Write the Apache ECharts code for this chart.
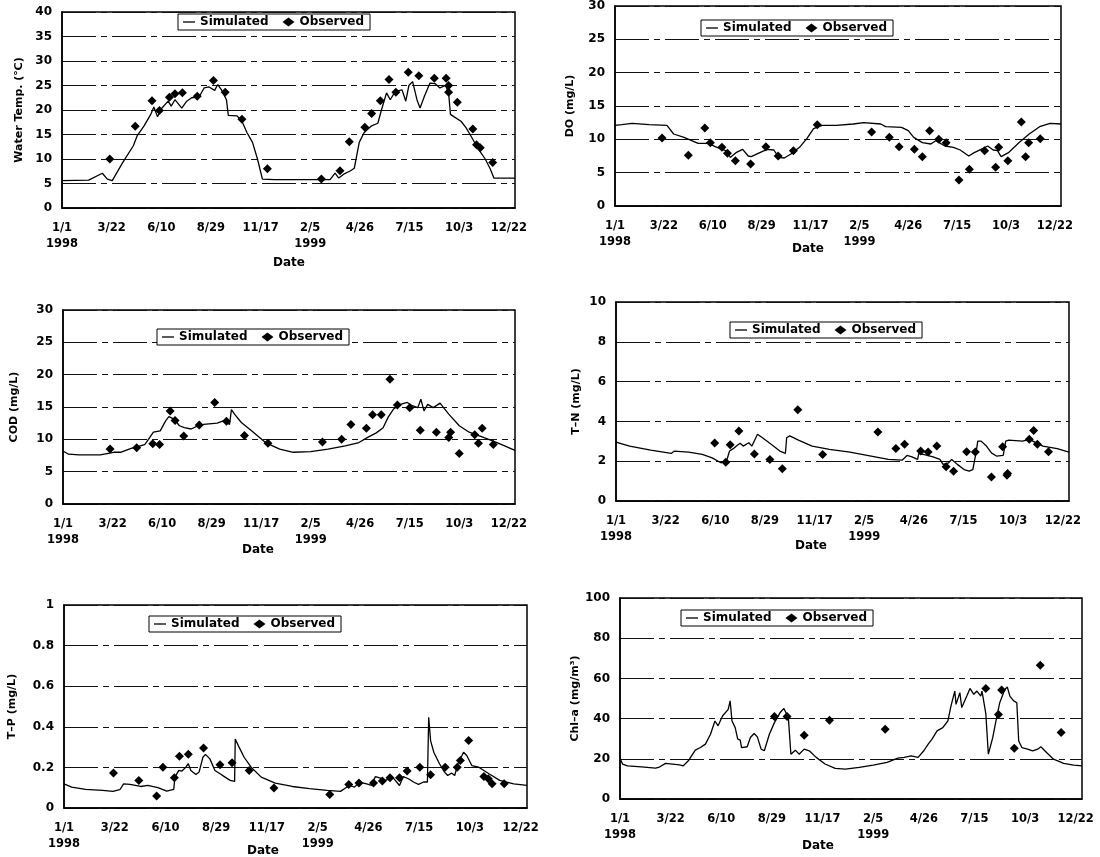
<!DOCTYPE html>
<html><head><meta charset="utf-8">
<script src="https://cdn.jsdelivr.net/npm/echarts@6/dist/echarts.min.js"></script>
<style>html,body{margin:0;padding:0;background:#fff}#c{width:1100px;height:857px}</style>
</head><body><div id="c"></div>
<script>
// ---------- DATA ----------
// x = days since 1998-01-01
const tickLabels = ['1/1\n1998','3/22','6/10','8/29','11/17','2/5\n1999','4/26','7/15','10/3','12/22'];
const tickStepDays = 80;
const axisMaxDays = 730;
const legendNames = ['Simulated','Observed'];
const yNames = ['Water Temp. (\u2103)','DO (mg/L)','COD (mg/L)','T\u2013N (mg/L)','T\u2013P (mg/L)','Chl\u2013a (mg/m\u00b3)'];
const yMax = [40, 30, 30, 10, 1, 100];
const yStep = [5, 5, 5, 2, 0.2, 20];
const xTitle = 'Date';

const tempSim = [[0,5.6],[43,5.7],[65,7.1],[73,5.9],[81,5.6],[98,9.3],[115,12.7],[121,14.7],[132,16.7],[143,19.1],[148,20.6],[154,18.6],[159,20.1],[171,21.8],[176,20.8],[182,22.1],[193,20.4],[201,21.8],[209,22.5],[221,22.7],[229,24.5],[237,24.7],[246,24.0],[251,25.2],[257,24.1],[265,22.1],[268,18.9],[282,18.8],[290,17.7],[298,15.4],[307,13.4],[315,10.0],[323,5.9],[343,5.8],[432,5.8],[440,7.1],[446,6.1],[454,6.9],[465,7.6],[471,8.1],[479,13.4],[487,15.4],[498,16.7],[509,17.3],[515,20.1],[523,23.5],[529,22.1],[537,23.8],[548,24.1],[554,21.8],[559,25.0],[565,25.8],[572,22.1],[577,20.4],[584,22.8],[593,25.5],[601,25.4],[609,24.5],[618,25.0],[623,23.5],[626,19.1],[632,18.6],[643,17.7],[651,16.4],[659,14.7],[671,12.0],[682,10.0],[690,8.0],[696,6.1],[730,6.1]];
const tempObs = [[77,10.0],[118,16.7],[145,21.9],[157,19.9],[173,22.6],[182,23.3],[194,23.5],[218,22.8],[244,26.0],[263,23.6],[290,18.1],[331,8.0],[418,5.9],[448,7.6],[463,13.5],[488,16.5],[499,19.3],[513,21.9],[527,26.2],[538,23.6],[558,27.7],[575,27.0],[600,26.5],[619,26.5],[623,25.0],[623,23.6],[637,21.6],[662,16.1],[668,12.9],[674,12.3],[694,9.3]];

const doSim = [[0,12.1],[11,12.2],[28,12.4],[56,12.2],[85,12.1],[96,10.8],[113,10.3],[136,9.4],[153,9.4],[164,8.9],[181,8.3],[189,7.3],[198,8.0],[209,8.5],[218,7.5],[223,7.4],[237,8.0],[249,8.5],[260,8.4],[268,7.3],[277,7.2],[288,7.8],[302,8.8],[314,10.1],[325,11.6],[339,12.1],[362,12.1],[390,12.3],[407,12.5],[435,12.3],[443,11.9],[469,11.8],[480,11.3],[489,10.3],[503,9.5],[517,9.3],[525,9.8],[540,9.0],[554,8.8],[565,8.4],[579,7.5],[588,8.0],[599,8.5],[610,9.0],[619,8.4],[626,8.3],[632,7.4],[644,8.0],[661,9.5],[678,10.8],[695,11.9],[712,12.4],[730,12.3]];
const doObs = [[77,10.2],[120,7.6],[147,11.7],[156,9.5],[175,8.8],[184,7.9],[197,6.8],[222,6.3],[247,8.9],[267,7.5],[292,8.3],[331,12.2],[420,11.1],[449,10.3],[465,8.9],[490,8.5],[503,7.4],[515,11.3],[530,10.0],[542,9.5],[563,3.9],[580,5.5],[605,8.3],[623,5.8],[628,8.8],[643,6.8],[665,12.6],[672,7.4],[677,9.5],[696,10.1]];

const codSim = [[0,8.2],[9,7.7],[26,7.6],[60,7.6],[82,8.0],[93,8.0],[110,8.6],[132,9.2],[138,10.0],[146,11.1],[157,11.3],[166,12.9],[171,13.5],[180,13.1],[188,12.1],[196,11.8],[207,11.6],[216,12.0],[227,12.3],[249,12.5],[260,12.9],[269,12.3],[272,14.6],[277,13.9],[288,12.6],[305,11.3],[327,9.5],[350,8.5],[372,8.0],[400,8.1],[428,8.5],[456,9.0],[478,9.5],[492,10.3],[506,11.0],[517,11.8],[525,13.4],[534,14.7],[545,15.4],[556,15.7],[564,15.2],[573,14.9],[578,16.2],[583,14.4],[589,15.4],[598,14.9],[609,15.6],[623,13.9],[640,12.1],[656,11.1],[679,10.3],[701,9.5],[730,8.3]];
const codObs = [[76,8.5],[119,8.7],[145,9.3],[156,9.2],[173,14.4],[181,12.9],[195,10.5],[220,12.2],[245,15.7],[264,12.8],[293,10.6],[331,9.4],[419,9.6],[450,10.0],[465,12.3],[490,11.7],[500,13.8],[514,13.8],[528,19.3],[540,15.3],[560,14.9],[577,11.4],[603,11.1],[623,10.3],[626,11.1],[640,7.8],[665,10.7],[671,9.4],[677,11.7],[695,9.2]];

const tnSim = [[0,2.96],[22,2.76],[56,2.56],[89,2.39],[94,2.51],[117,2.46],[139,2.34],[155,2.17],[169,1.92],[178,2.0],[183,2.51],[189,2.63],[194,2.76],[200,2.9],[205,2.76],[214,2.93],[219,2.76],[228,3.35],[236,3.18],[250,2.85],[264,2.51],[273,2.39],[275,3.18],[280,3.27],[294,3.06],[316,2.76],[344,2.59],[377,2.46],[411,2.26],[439,2.09],[461,2.05],[469,2.29],[477,2.22],[486,2.09],[488,2.39],[500,2.31],[511,2.22],[522,2.09],[527,1.84],[536,1.92],[541,2.09],[550,1.84],[561,1.58],[569,1.50],[575,1.58],[580,2.39],[583,3.01],[588,3.01],[597,2.76],[605,2.42],[613,2.26],[624,2.29],[628,3.01],[633,3.06],[655,3.01],[666,3.1],[688,2.76],[711,2.63],[730,2.46]];
const tnObs = [[159,2.91],[177,1.95],[184,2.83],[198,3.52],[223,2.36],[248,2.09],[268,1.62],[293,4.58],[333,2.34],[422,3.47],[451,2.64],[465,2.85],[491,2.51],[503,2.46],[517,2.76],[532,1.72],[544,1.50],[565,2.47],[579,2.46],[605,1.21],[623,2.73],[630,1.30],[631,1.38],[666,3.10],[673,3.54],[679,2.85],[697,2.47]];

const tpSim = [[0,0.119],[12,0.103],[34,0.092],[61,0.087],[77,0.082],[88,0.090],[94,0.119],[104,0.116],[121,0.106],[132,0.111],[148,0.100],[162,0.083],[173,0.092],[175,0.152],[181,0.185],[186,0.182],[192,0.201],[196,0.218],[200,0.185],[208,0.165],[213,0.177],[219,0.250],[223,0.264],[230,0.242],[238,0.185],[246,0.169],[254,0.152],[262,0.136],[269,0.131],[270,0.340],[276,0.300],[284,0.250],[295,0.201],[311,0.152],[333,0.123],[360,0.106],[387,0.095],[415,0.087],[436,0.082],[442,0.095],[450,0.111],[458,0.103],[466,0.128],[477,0.119],[485,0.111],[491,0.155],[499,0.147],[507,0.136],[518,0.152],[529,0.111],[535,0.155],[543,0.144],[551,0.128],[559,0.116],[567,0.128],[573,0.128],[575,0.447],[578,0.332],[583,0.275],[592,0.218],[600,0.177],[605,0.160],[611,0.172],[616,0.160],[621,0.218],[630,0.275],[635,0.259],[643,0.209],[654,0.201],[670,0.169],[687,0.136],[709,0.119],[730,0.111]];
const tpObs = [[78,0.172],[118,0.136],[146,0.059],[156,0.201],[174,0.149],[182,0.255],[196,0.265],[220,0.295],[246,0.213],[265,0.223],[292,0.185],[331,0.098],[419,0.067],[449,0.116],[465,0.123],[488,0.123],[502,0.133],[514,0.149],[529,0.149],[541,0.182],[561,0.201],[578,0.164],[601,0.201],[620,0.201],[625,0.234],[638,0.332],[662,0.155],[669,0.144],[675,0.119],[694,0.119]];

const chlSim = [[0,20.3],[4,17.4],[12,16.5],[34,16.0],[56,15.4],[61,15.7],[72,17.7],[83,17.4],[94,17.0],[100,16.5],[108,19.0],[113,21.5],[119,24.3],[127,25.6],[135,27.3],[143,32.2],[150,38.8],[155,36.4],[162,41.3],[171,44.6],[174,48.8],[177,38.8],[182,35.5],[186,29.8],[190,29.3],[192,25.6],[201,26.0],[206,30.6],[212,32.6],[217,30.9],[223,24.8],[228,24.0],[236,32.2],[244,38.0],[253,43.0],[259,45.0],[266,40.5],[270,22.3],[277,24.3],[283,22.3],[291,24.8],[299,24.0],[310,20.7],[324,17.4],[340,15.2],[356,14.9],[378,15.7],[400,16.9],[422,18.2],[439,20.3],[449,20.7],[460,21.5],[471,20.7],[480,24.0],[487,27.3],[493,29.8],[501,33.9],[510,35.5],[518,38.8],[523,46.3],[529,53.7],[531,47.1],[537,52.9],[540,45.5],[548,51.2],[553,55.0],[559,52.1],[564,53.7],[570,51.2],[572,53.7],[578,42.5],[582,22.3],[589,30.6],[594,38.8],[600,47.9],[608,54.5],[612,55.7],[616,51.2],[622,48.8],[627,47.9],[630,28.9],[635,25.6],[644,24.8],[652,24.0],[660,24.8],[665,26.0],[674,23.1],[685,19.8],[701,17.7],[717,16.9],[730,16.5]];
const chlObs = [[244,41.0],[264,41.0],[291,31.7],[331,39.2],[419,34.7],[578,55.0],[598,42.1],[603,54.2],[623,25.3],[664,66.6],[697,33.1]];

const simData = [tempSim, doSim, codSim, tnSim, tpSim, chlSim];
const obsData = [tempObs, doObs, codObs, tnObs, tpObs, chlObs];

// ---------- LAYOUT (positions/styles) ----------
const layout = [
  {left:62, top:12, width:453, height:196, lg:[178,14], date:[289,265], gap:37},
  {left:615, top:6, width:446, height:200, lg:[701,20], date:[808,251], gap:39},
  {left:63, top:310, width:452, height:194, lg:[157,329], date:[258,552], gap:43},
  {left:616, top:302, width:453, height:199, lg:[730,322], date:[811,548], gap:34},
  {left:64, top:605, width:463, height:203, lg:[149,616], date:[263,853], gap:46},
  {left:620, top:598, width:462, height:201, lg:[681,610], date:[818,848], gap:39}
];
const FONT = 'DejaVu Sans';
const dashIcon = 'path://M0,0 L12,0 L12,1.3 L0,1.3 Z';

const grids = [], xAxes = [], yAxes = [], series = [], legends = [], graphics = [];
layout.forEach((p, i) => {
  grids.push({left:p.left, top:p.top, width:p.width, height:p.height, show:true,
    borderColor:'#000', borderWidth:1.5, backgroundColor:'transparent', containLabel:false});
  xAxes.push({type:'value', gridIndex:i, min:0, max:axisMaxDays, interval:tickStepDays,
    axisLine:{show:true, onZero:false, lineStyle:{color:'#000', width:1.5}},
    axisTick:{show:false}, splitLine:{show:false},
    axisLabel:{margin:12, color:'#000', fontFamily:FONT, fontWeight:'bold', fontSize:11.5, lineHeight:16,
      formatter:(v) => { const k = v / tickStepDays; return (Number.isInteger(k) && k < tickLabels.length) ? tickLabels[k] : ''; }}
  });
  yAxes.push({type:'value', gridIndex:i, min:0, max:yMax[i], interval:yStep[i],
    name:yNames[i], nameLocation:'middle', nameGap:p.gap,
    nameTextStyle:{color:'#000', fontFamily:FONT, fontWeight:'bold', fontSize:11},
    axisLine:{show:true, lineStyle:{color:'#000', width:1.5}},
    axisTick:{show:false},
    axisLabel:{margin:10, color:'#000', fontFamily:FONT, fontWeight:'bold', fontSize:12},
    splitLine:{show:true, lineStyle:{color:'#111', width:1, type:[34,5,6,5]}}
  });
  series.push({name:legendNames[0], type:'line', xAxisIndex:i, yAxisIndex:i, data:simData[i],
    symbol:'none', lineStyle:{color:'#000', width:1.3}, itemStyle:{color:'#000'}, z:3});
  series.push({name:legendNames[1], type:'scatter', xAxisIndex:i, yAxisIndex:i, data:obsData[i],
    symbol:'diamond', symbolSize:9, itemStyle:{color:'#000', opacity:1}, z:4});
  legends.push({data:[{name:legendNames[0], icon:dashIcon}, {name:legendNames[1], icon:'diamond'}],
    left:p.lg[0], top:p.lg[1], orient:'horizontal',
    backgroundColor:'#fff', borderColor:'#000', borderWidth:1, borderRadius:0,
    padding:[2,6,2,5], itemGap:14, itemWidth:12, itemHeight:9,
    selectedMode:false,
    itemStyle:{color:'#000', opacity:1},
    textStyle:{color:'#000', fontFamily:FONT, fontWeight:'bold', fontSize:12}});
  graphics.push({type:'text', left:p.date[0] - 16, top:p.date[1] - 8,
    style:{text:xTitle, fill:'#000', font:'bold 12px "DejaVu Sans"'}});
});

const chart = echarts.init(document.getElementById('c'), null, {renderer:'canvas'});
chart.setOption({
  animation:false,
  backgroundColor:'#fff',
  grid:grids, xAxis:xAxes, yAxis:yAxes, series:series, legend:legends, graphic:graphics
});
</script></body></html>
